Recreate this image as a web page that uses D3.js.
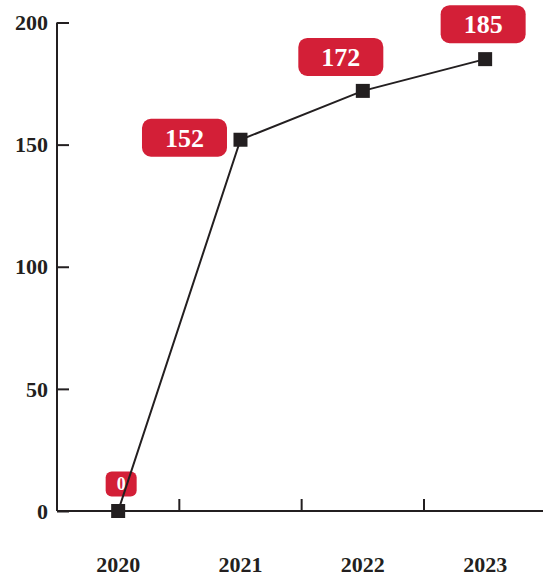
<!DOCTYPE html>
<meta charset="utf-8">
<style>
body { margin: 0; background: #fff; }
text { font-family: "Liberation Serif", serif; font-weight: bold; }
</style>
<body>
<script src="https://d3js.org/d3.v7.min.js"></script>
<script>
var years = ["2020", "2021", "2022", "2023"];
var values = [0, 152, 172, 185];
var yTicks = [0, 50, 100, 150, 200];

var width = 543, height = 577;
var plotL = 57, plotR = 546.3, plotT = 22.5, plotB = 511;
var ink = "#231f20", red = "#d31f37";

var svg = d3.select("body").append("svg")
    .attr("width", width)
    .attr("height", height);

var x = d3.scaleBand().domain(years).range([plotL, plotR]);
var y = d3.scaleLinear().domain([0, 200]).range([plotB, plotT]);
var cx = function(d) { return x(d) + x.bandwidth() / 2; };

// y axis, ticks pointing inward
var yAxis = svg.append("g")
    .attr("transform", "translate(" + plotL + ",0)")
    .call(d3.axisRight(y).tickValues(yTicks).tickSize(12).tickFormat(""));
yAxis.select(".domain").attr("d", "M0," + plotT + "V" + plotB)
    .attr("stroke", ink).attr("stroke-width", 2);
yAxis.selectAll(".tick line").attr("stroke", ink).attr("stroke-width", 2);

svg.selectAll(".ylab")
    .data(yTicks)
  .enter().append("text")
    .attr("class", "ylab")
    .attr("x", plotL - 9)
    .attr("y", function(d) { return y(d); })
    .attr("dy", "0.35em")
    .attr("text-anchor", "end")
    .attr("font-size", 22)
    .attr("fill", ink)
    .text(function(d) { return d; });

// x axis line with ticks at band boundaries
svg.append("line")
    .attr("x1", plotL).attr("x2", width)
    .attr("y1", plotB).attr("y2", plotB)
    .attr("stroke", ink).attr("stroke-width", 2);
svg.selectAll(".xtick")
    .data(years.slice(1))
  .enter().append("line")
    .attr("class", "xtick")
    .attr("x1", function(d) { return x(d); })
    .attr("x2", function(d) { return x(d); })
    .attr("y1", plotB).attr("y2", plotB - 12)
    .attr("stroke", ink).attr("stroke-width", 2);

svg.selectAll(".xlab")
    .data(years)
  .enter().append("text")
    .attr("class", "xlab")
    .attr("x", function(d) { return cx(d); })
    .attr("y", 572)
    .attr("text-anchor", "middle")
    .attr("font-size", 22)
    .attr("fill", ink)
    .text(function(d) { return d; });

var pts = years.map(function(yr, i) { return {year: yr, value: values[i]}; });

// label boxes (offset from point)
var place = {
  "2020": [3, -27],
  "2021": [-56, -2],
  "2022": [-22, -34],
  "2023": [-2, -35]
};

var lab = svg.selectAll(".lab")
    .data(pts)
  .enter().append("g")
    .attr("class", "lab")
    .attr("transform", function(d) {
      var o = place[d.year];
      return "translate(" + (cx(d.year) + o[0]) + "," + (y(d.value) + o[1]) + ")";
    });

var big = function(d) { return String(d.value).length > 1; };

lab.append("rect")
    .attr("x", function(d) { return big(d) ? -42.5 : -15.5; })
    .attr("y", function(d) { return big(d) ? -19 : -12.5; })
    .attr("width", function(d) { return big(d) ? 85 : 31; })
    .attr("height", function(d) { return big(d) ? 38 : 25; })
    .attr("rx", function(d) { return big(d) ? 9 : 6; })
    .attr("fill", red);

var line = d3.line()
    .x(function(d) { return cx(d.year); })
    .y(function(d) { return y(d.value); });

svg.append("path")
    .datum(pts)
    .attr("d", line)
    .attr("fill", "none")
    .attr("stroke", ink)
    .attr("stroke-width", 2);

svg.selectAll(".mark")
    .data(pts)
  .enter().append("rect")
    .attr("class", "mark")
    .attr("x", function(d) { return cx(d.year) - 7; })
    .attr("y", function(d) { return y(d.value) - 7; })
    .attr("width", 14).attr("height", 14)
    .attr("fill", ink);

lab.append("text")
    .attr("text-anchor", "middle")
    .attr("dy", "0.35em")
    .attr("font-size", function(d) { return big(d) ? 26 : 18; })
    .attr("fill", "#fff")
    .text(function(d) { return d.value; });
</script>
</body>
